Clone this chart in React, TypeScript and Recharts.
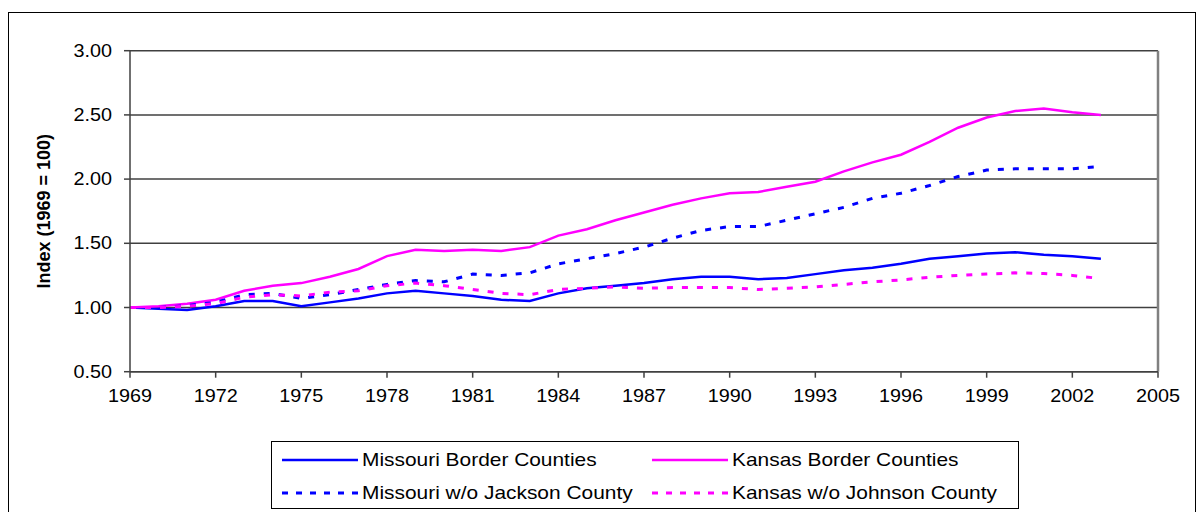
import React from "react";
import {
  LineChart,
  Line,
  XAxis,
  YAxis,
  CartesianGrid,
  ReferenceLine,
} from "recharts";

const years = [
  1969, 1970, 1971, 1972, 1973, 1974, 1975, 1976, 1977, 1978, 1979, 1980,
  1981, 1982, 1983, 1984, 1985, 1986, 1987, 1988, 1989, 1990, 1991, 1992,
  1993, 1994, 1995, 1996, 1997, 1998, 1999, 2000, 2001, 2002, 2003,
];

const missouriBorder = [
  1.0, 0.99, 0.98, 1.01, 1.05, 1.05, 1.01, 1.04, 1.07, 1.11, 1.13, 1.11,
  1.09, 1.06, 1.05, 1.11, 1.15, 1.17, 1.19, 1.22, 1.24, 1.24, 1.22, 1.23,
  1.26, 1.29, 1.31, 1.34, 1.38, 1.4, 1.42, 1.43, 1.41, 1.4, 1.38,
];

const kansasBorder = [
  1.0, 1.01, 1.03, 1.06, 1.13, 1.17, 1.19, 1.24, 1.3, 1.4, 1.45, 1.44,
  1.45, 1.44, 1.47, 1.56, 1.61, 1.68, 1.74, 1.8, 1.85, 1.89, 1.9, 1.94,
  1.98, 2.06, 2.13, 2.19, 2.29, 2.4, 2.48, 2.53, 2.55, 2.52, 2.5,
];

const missouriWoJackson = [
  1.0, 1.0, 1.015, 1.04, 1.1, 1.11, 1.07, 1.1, 1.14, 1.18, 1.21, 1.2,
  1.26, 1.25, 1.27, 1.34, 1.38, 1.42, 1.47, 1.54, 1.6, 1.63, 1.63, 1.68,
  1.73, 1.78, 1.85, 1.89, 1.95, 2.02, 2.07, 2.08, 2.08, 2.08, 2.1,
];

const kansasWoJohnson = [
  1.0, 1.0, 1.01, 1.03, 1.08, 1.1, 1.09, 1.12, 1.13, 1.17, 1.19, 1.17,
  1.14, 1.11, 1.1, 1.14, 1.15, 1.16, 1.15, 1.155, 1.155, 1.155, 1.14, 1.15,
  1.16, 1.18, 1.2, 1.215, 1.235, 1.25, 1.26, 1.27, 1.265, 1.25, 1.225,
];

const xTicks = [
  1969, 1972, 1975, 1978, 1981, 1984, 1987, 1990, 1993, 1996, 1999, 2002,
  2005,
];
const yTicks = [0.5, 1.0, 1.5, 2.0, 2.5, 3.0];

const seriesNames = [
  "Missouri Border Counties",
  "Kansas Border Counties",
  "Missouri w/o Jackson County",
  "Kansas w/o Johnson County",
];

const BLUE = "#0000FF";
const MAGENTA = "#FF00FF";
const FONT = "'Liberation Sans', Arial, sans-serif";
const STRETCH = 1.1;

const data = years.map((y, i) => ({
  year: y,
  mo: missouriBorder[i],
  ks: kansasBorder[i],
  moWo: missouriWoJackson[i],
  ksWo: kansasWoJohnson[i],
}));

const XTick = (props: any) => {
  const { x, y, payload } = props;
  return (
    <g transform={`translate(${x},${y}) scale(${STRETCH},1)`}>
      <text
        x={0}
        y={0}
        dy={20}
        textAnchor="middle"
        fontFamily={FONT}
        fontSize={18}
        fill="#000"
      >
        {payload.value}
      </text>
    </g>
  );
};

const YTick = (props: any) => {
  const { x, y, payload } = props;
  return (
    <g transform={`translate(${x},${y}) scale(${STRETCH},1)`}>
      <text
        x={0}
        y={0}
        dy={6}
        textAnchor="end"
        fontFamily={FONT}
        fontSize={18}
        fill="#000"
      >
        {Number(payload.value).toFixed(2)}
      </text>
    </g>
  );
};

const LegendItem = ({
  left,
  top,
  color,
  dashed,
  label,
}: {
  left: number;
  top: number;
  color: string;
  dashed: boolean;
  label: string;
}) => (
  <div style={{ position: "absolute", left, top, height: 26, width: 370 }}>
    <svg
      width={80}
      height={26}
      style={{ position: "absolute", left: 0, top: 0 }}
    >
      <line
        x1={2}
        y1={13}
        x2={78}
        y2={13}
        stroke={color}
        strokeWidth={dashed ? 3 : 2.5}
        strokeDasharray={dashed ? "6 8" : undefined}
      />
    </svg>
    <div
      style={{
        position: "absolute",
        left: 82,
        top: 0,
        lineHeight: "26px",
        fontFamily: FONT,
        fontSize: 19,
        color: "#000",
        whiteSpace: "nowrap",
        transform: `scale(${STRETCH},1)`,
        transformOrigin: "left center",
      }}
    >
      {label}
    </div>
  </div>
);

export default function App() {
  return (
    <div
      style={{
        position: "absolute",
        left: 0,
        top: 0,
        width: 1198,
        height: 512,
        overflow: "hidden",
        background: "#fff",
      }}
    >
      <div
        style={{
          position: "absolute",
          left: 8,
          top: 12,
          width: 1186,
          height: 540,
          border: "1.5px solid #000",
        }}
      />
      <div style={{ position: "absolute", left: 0, top: 0 }}>
        <LineChart
          width={1198}
          height={512}
          data={data}
          margin={{ top: 50.7, right: 40, bottom: 100, left: 0 }}
        >
          <CartesianGrid
            vertical={false}
            stroke="#404040"
            strokeWidth={1.5}
          />
          <XAxis
            dataKey="year"
            type="number"
            domain={[1969, 2005]}
            ticks={xTicks}
            allowDataOverflow
            height={40.3}
            tick={<XTick />}
            tickSize={6}
            tickMargin={4}
            stroke="#404040"
            strokeWidth={1.5}
            interval={0}
          />
          <YAxis
            type="number"
            domain={[0.5, 3]}
            ticks={yTicks}
            width={130}
            tick={<YTick />}
            tickSize={6}
            tickMargin={12}
            stroke="#404040"
            strokeWidth={1.5}
            interval={0}
            label={{
              value: "Index (1969 = 100)",
              angle: -90,
              position: "insideLeft",
              offset: 0,
              dx: 44,
              style: {
                fontFamily: FONT,
                fontSize: 18,
                fontWeight: "bold",
                fill: "#000",
                textAnchor: "middle",
              },
            }}
          />
          <ReferenceLine x={2005} stroke="#808080" strokeWidth={2.5} />
          <Line
            type="linear"
            dataKey="mo"
            stroke={BLUE}
            strokeWidth={2.5}
            dot={false}
            isAnimationActive={false}
          />
          <Line
            type="linear"
            dataKey="ks"
            stroke={MAGENTA}
            strokeWidth={2.5}
            dot={false}
            isAnimationActive={false}
          />
          <Line
            type="linear"
            dataKey="moWo"
            stroke={BLUE}
            strokeWidth={3}
            strokeDasharray="6 9"
            dot={false}
            isAnimationActive={false}
          />
          <Line
            type="linear"
            dataKey="ksWo"
            stroke={MAGENTA}
            strokeWidth={3}
            strokeDasharray="6 9"
            dot={false}
            isAnimationActive={false}
          />
        </LineChart>
      </div>
      <div
        style={{
          position: "absolute",
          left: 271,
          top: 441,
          width: 748,
          height: 68,
          border: "1.5px solid #000",
          boxSizing: "border-box",
          background: "#fff",
        }}
      >
        <LegendItem left={8} top={5} color={BLUE} dashed={false} label={seriesNames[0]} />
        <LegendItem left={378} top={5} color={MAGENTA} dashed={false} label={seriesNames[1]} />
        <LegendItem left={8} top={38} color={BLUE} dashed={true} label={seriesNames[2]} />
        <LegendItem left={378} top={38} color={MAGENTA} dashed={true} label={seriesNames[3]} />
      </div>
    </div>
  );
}
